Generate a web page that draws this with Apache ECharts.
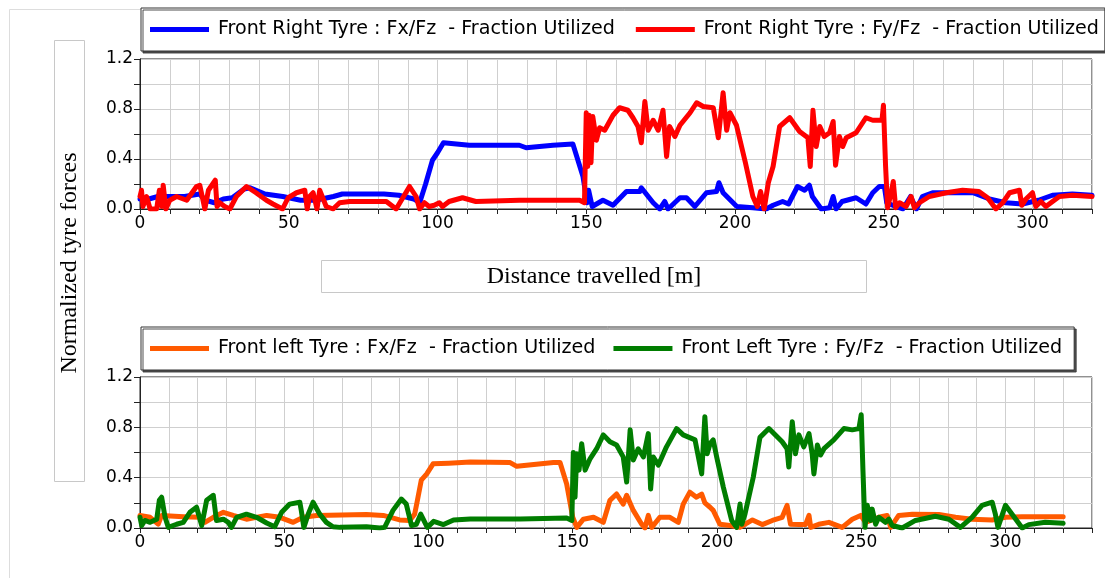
<!DOCTYPE html>
<html><head><meta charset="utf-8">
<script src="https://cdn.jsdelivr.net/npm/echarts@6/dist/echarts.min.js"></script>
<style>html,body{margin:0;padding:0;background:#fff}#c{width:1105px;height:578px}</style>
</head><body><div id="c"></div>
<script>
// Top chart: Front Right tyre. [distance m, fraction]
var frFx = [[0,0.08],[3,0.08],[6,0.1],[10,0.1],[15,0.1],[20,0.12],[22,0.07],[25,0.05],[28,0.08],[31,0.09],[35,0.16],[37,0.17],[42,0.12],[48,0.1],[54,0.07],[59,0.07],[65,0.1],[68,0.12],[82,0.12],[87,0.11],[92,0.08],[94,0.05],[96,0.2],[98.3,0.39],[100,0.45],[102,0.53],[110.7,0.51],[127.5,0.51],[129.8,0.49],[138.8,0.51],[145.5,0.52],[148.9,0.26],[150.3,0.05],[150.8,0.15],[152,0.02],[155.6,0.07],[159,0.03],[163.5,0.14],[168,0.14],[168.5,0.17],[172.5,0.05],[174.7,0],[176.4,0.06],[177.5,0],[181.5,0.09],[183.7,0.09],[186.5,0.02],[190.4,0.13],[193.8,0.14],[194.6,0.21],[196,0.13],[200.6,0.02],[206,0.01],[210.5,0],[212.8,0.03],[216,0.06],[218,0.04],[221,0.18],[223.4,0.15],[225,0.19],[226,0.1],[229,0],[231.8,0.01],[233,0.1],[234,0],[236,0.06],[240.7,0.09],[244,0.04],[246.3,0.13],[248.5,0.18],[250.2,0.18],[251,0.05],[254,0.02],[256.4,0],[259,0.1],[261,0],[263,0.1],[266.4,0.13],[280,0.13],[285.5,0.08],[291,0.05],[296.6,0.04],[302,0.07],[306.7,0.11],[313.4,0.12],[320,0.11]];
var frFy = [[0,0.1],[0.5,0.15],[1,0.02],[2.2,0.1],[3.4,0],[5.6,0],[6.5,0.15],[7.3,0.02],[7.8,0.19],[8.7,0],[10,0.07],[12.3,0.1],[15.7,0.07],[19,0.18],[20.1,0.19],[21.8,0],[23,0.15],[25.3,0.23],[25.9,0.02],[26.8,0.05],[28.5,0.02],[30.2,0],[32.4,0.1],[35.8,0.18],[39,0.13],[42.5,0.07],[44.7,0.04],[47.9,0],[49.8,0.09],[52.6,0.13],[55.4,0.15],[56.2,0],[57,0.1],[58.2,0.13],[59.5,0],[60.4,0.15],[62.6,0.02],[64.9,0],[67.1,0.05],[70.5,0.06],[82.8,0.06],[86.1,0],[90.6,0.18],[92.8,0.1],[94,0],[95.6,0.05],[97.2,0.02],[98.9,0.03],[100.6,0.05],[101.7,0.02],[103.9,0.06],[108.4,0.09],[112.9,0.06],[127.5,0.07],[147.8,0.07],[149.4,0.05],[150,0.77],[150.5,0.34],[151,0.75],[151.6,0.37],[152.2,0.74],[153.4,0.55],[154.5,0.65],[156.2,0.63],[159,0.75],[161.2,0.81],[164,0.79],[165.7,0.73],[167.4,0.66],[168.5,0.53],[169.7,0.86],[170.8,0.63],[172.5,0.71],[174.2,0.63],[175.8,0.79],[177,0.42],[178,0.66],[179.8,0.58],[181.5,0.67],[184.9,0.77],[187.1,0.85],[189.3,0.82],[192.7,0.81],[194.4,0.57],[196,0.93],[197.2,0.63],[198.3,0.77],[200.5,0.67],[203.5,0.37],[206,0.1],[207.5,0.02],[208.6,0.14],[209.8,0],[211.2,0.21],[212.8,0.34],[215,0.66],[218.4,0.73],[221.7,0.62],[224.5,0.57],[225.3,0.34],[226.2,0.79],[227.3,0.5],[228.5,0.66],[230,0.58],[231.8,0.61],[233,0.7],[233.8,0.35],[235.1,0.58],[236.2,0.5],[237.4,0.57],[240.7,0.61],[244,0.73],[246.3,0.71],[249.4,0.71],[249.9,0.83],[250.6,0.35],[251.3,0.01],[252.5,0.13],[253.2,0.22],[254,0.01],[255.3,0.05],[257.5,0.02],[259.2,0.1],[260.3,0.01],[262,0.05],[265.3,0.1],[271,0.13],[276.5,0.15],[282,0.14],[284.9,0.09],[287.7,0],[290,0.05],[292.3,0.13],[295.6,0.15],[296.4,0.03],[297.8,0.08],[300,0.13],[301.1,0.02],[302.8,0.06],[304.5,0.02],[309,0.1],[313.4,0.11],[320,0.1]];
// Bottom chart: Front Left tyre
var flFx = [[0,0.1],[3.5,0.085],[6.3,0.03],[7.5,0.1],[15,0.09],[20.8,0.085],[22.5,0.045],[25.4,0.085],[28.9,0.125],[32.3,0.1],[36.9,0.07],[43.9,0.1],[48.5,0.085],[53.1,0.045],[56.6,0.085],[61.2,0.1],[78.5,0.107],[84.3,0.1],[90,0.064],[93.5,0.06],[95.2,0.11],[96,0.2],[97.5,0.38],[99.4,0.43],[101.6,0.51],[107,0.515],[114.5,0.525],[128.3,0.52],[130.6,0.49],[143.3,0.52],[145.6,0.52],[147.9,0.35],[150,0.085],[151.4,0.005],[153.7,0.07],[157.2,0.085],[160.6,0.045],[162.9,0.22],[165.2,0.27],[167.5,0.19],[168.7,0.26],[171,0.14],[173.9,0.03],[175,0],[176.2,0.1],[177.4,0.005],[180.2,0.085],[183.7,0.085],[186.6,0.045],[188.3,0.19],[190.6,0.285],[192.9,0.245],[194.7,0.27],[195.8,0.2],[197.6,0.165],[198.7,0.14],[201,0.03],[204.5,0.02],[207.9,0.005],[212.3,0.064],[215.7,0.027],[219.2,0.06],[222.6,0.085],[224.3,0.18],[225.5,0.03],[228.4,0.027],[230.7,0.027],[231.9,0.1],[232.5,0.005],[235.3,0.03],[238.8,0.045],[243.4,0.005],[246.9,0.07],[249.8,0.1],[251.5,0.045],[256.1,0.085],[259,0.1],[260.2,0.005],[263,0.1],[267.7,0.11],[276.9,0.107],[282.7,0.085],[288.4,0.07],[295.4,0.064],[300,0.085],[305.7,0.09],[320,0.09]];
var flFy = [[0,0.085],[0.6,0.02],[1.7,0.06],[3.5,0.045],[5.8,0.07],[6.7,0.22],[7.5,0.245],[8.7,0.085],[9.8,0.005],[12.7,0.03],[15,0.045],[17.3,0.125],[19.6,0.165],[21.4,0.02],[23.1,0.22],[25.4,0.26],[26.5,0.06],[28.9,0.07],[30.6,0.045],[31.7,0.005],[33.5,0.085],[36.9,0.11],[40.4,0.085],[43.9,0.04],[46.7,0.01],[49.1,0.125],[51.9,0.19],[55.4,0.205],[55.9,0.14],[56.8,0.005],[58.3,0.11],[60,0.205],[62.3,0.11],[64.6,0.045],[66.9,0.01],[69.3,0.005],[78.5,0.01],[83.1,0],[84.8,0.005],[87.7,0.14],[90.6,0.23],[92.3,0.19],[94.1,0.02],[95.8,0.03],[97.3,0.11],[99.6,0.005],[101.8,0.053],[105.2,0.027],[108.7,0.064],[114.5,0.072],[131.8,0.072],[147.9,0.08],[149.7,0.06],[150.2,0.6],[150.8,0.245],[151.4,0.59],[152.2,0.46],[153.1,0.67],[154.3,0.46],[156,0.55],[158.3,0.63],[160.6,0.74],[162.9,0.685],[165.2,0.66],[167.5,0.565],[168.7,0.365],[169.9,0.78],[171,0.54],[172.7,0.63],[174.5,0.565],[176.2,0.75],[177,0.31],[177.9,0.565],[179.7,0.5],[182.5,0.645],[186,0.79],[188.3,0.74],[192.4,0.7],[194.7,0.43],[195.8,0.885],[196.6,0.59],[197.6,0.67],[198.7,0.7],[199.9,0.565],[202.2,0.325],[205.1,0.06],[206.8,0.005],[208,0.19],[208.6,0.03],[209.7,0.11],[212.6,0.405],[214.9,0.72],[218,0.79],[222.6,0.685],[224.3,0.63],[224.9,0.485],[226.1,0.845],[227.2,0.59],[228.4,0.74],[230.1,0.645],[231.9,0.75],[233,0.59],[233.6,0.43],[234.8,0.66],[235.9,0.58],[237.1,0.63],[240.5,0.7],[244,0.79],[246.9,0.78],[249.2,0.79],[250,0.9],[250.6,0.46],[251.3,0.005],[252.1,0.18],[253.2,0.06],[253.8,0.15],[255,0.03],[256.1,0.085],[258.4,0.045],[259.6,0.07],[260.7,0.02],[264.2,0],[268.8,0.06],[275.7,0.093],[280.4,0.07],[284.4,0.005],[288.4,0.085],[291.9,0.18],[295.4,0.205],[296.5,0.11],[297.4,0.005],[300,0.18],[302.3,0.11],[305.8,0],[308.1,0.027],[313.8,0.045],[320,0.037]];

var seriesNames = [
  'Front Right Tyre : Fx/Fz  - Fraction Utilized',
  'Front Right Tyre : Fy/Fz  - Fraction Utilized',
  'Front left Tyre : Fx/Fz  - Fraction Utilized',
  'Front Left Tyre : Fy/Fz  - Fraction Utilized'
];
var seriesColors = ['#0000ff', '#ff0000', '#ff5a00', '#007d00'];
var xMaxTop = 320, xMaxBottom = 330;
var yTitle = 'Normalized tyre forces';
var xTitle = 'Distance travelled [m]';

var sans = '"DejaVu Sans", sans-serif';
var serif = '"Liberation Serif", "Times New Roman", serif';

function xAxis(gi, max) {
  return {
    type: 'value', gridIndex: gi, min: 0, max: max, interval: 10,
    axisLine: { show: true, onZero: false, lineStyle: { color: '#222', width: 1 } },
    axisTick: { show: true, length: 5, lineStyle: { color: '#222' } },
    axisLabel: { color: '#000', fontFamily: sans, fontSize: 17, margin: 6,
      formatter: function (v) { return (Math.round(v) % 50 === 0 && v <= 300) ? String(Math.round(v)) : ''; } },
    splitLine: { show: true, lineStyle: { color: '#cfcfcf', width: 1 } }
  };
}
function yAxis(gi) {
  return {
    type: 'value', gridIndex: gi, min: 0, max: 1.2, interval: 0.2,
    axisLine: { show: true, lineStyle: { color: '#222', width: 1 } },
    axisTick: { show: true, length: 6, lineStyle: { color: '#222' } },
    axisLabel: { color: '#000', fontFamily: sans, fontSize: 17, margin: 7,
      formatter: function (v) { var k = Math.round(v * 10); return k % 4 === 0 ? (k / 10).toFixed(1) : ''; } },
    splitLine: { show: true, lineStyle: { color: '#cfcfcf', width: 1 } }
  };
}
function line(i, gi, data) {
  return {
    name: seriesNames[i], type: 'line', xAxisIndex: gi, yAxisIndex: gi,
    data: data, showSymbol: false, symbol: 'none', animation: false,
    color: seriesColors[i],
    lineStyle: { width: 5, color: seriesColors[i], cap: 'round', join: 'round' }
  };
}
function legend(names, top, gap, padRight) {
  return {
    data: names, left: 141, top: top, orient: 'horizontal',
    itemWidth: 59, itemHeight: 5, itemGap: gap, icon: 'rect',
    backgroundColor: '#fff', borderColor: '#333', borderWidth: 1,
    shadowColor: 'rgba(60,60,60,0.9)', shadowOffsetX: 2, shadowOffsetY: 2, shadowBlur: 0,
    padding: [12, padRight, 12, 9],
    textStyle: { fontFamily: sans, fontSize: 19.1, color: '#000', padding: [0, 0, 0, 4] },
    selectedMode: false
  };
}

var chart = echarts.init(document.getElementById('c'), null, { renderer: 'canvas' });
chart.setOption({
  animation: false,
  backgroundColor: '#fff',
  grid: [
    { left: 140, top: 59, width: 952, height: 150, show: true, borderColor: '#222', borderWidth: 1, backgroundColor: 'transparent' },
    { left: 140, top: 377, width: 952, height: 151, show: true, borderColor: '#222', borderWidth: 1, backgroundColor: 'transparent' }
  ],
  xAxis: [xAxis(0, xMaxTop), xAxis(1, xMaxBottom)],
  yAxis: [yAxis(0), yAxis(1)],
  legend: [legend([seriesNames[0], seriesNames[1]], 8, 21, 6), legend([seriesNames[2], seriesNames[3]], 327, 18, 12)],
  graphic: [
    { type: 'rect', left: 7, top: 7, shape: { width: 1110, height: 580 }, style: { fill: 'none', stroke: '#dddddd', lineWidth: 1 }, z: -10 },
    { type: 'rect', left: 54, top: 40, shape: { width: 30, height: 441 }, style: { fill: '#fff', stroke: '#c8c8c8', lineWidth: 1 } },
    { type: 'text', x: 70, y: 263, rotation: Math.PI / 2, style: { text: yTitle, font: '24px ' + serif, fill: '#000', align: 'center', verticalAlign: 'middle' } },
    { type: 'rect', left: 321, top: 260, shape: { width: 545, height: 32 }, style: { fill: '#fff', stroke: '#c8c8c8', lineWidth: 1 } },
    { type: 'text', x: 594, y: 277, style: { text: xTitle, font: '24px ' + serif, fill: '#000', align: 'center', verticalAlign: 'middle' } }
  ],
  series: [line(0, 0, frFx), line(1, 0, frFy), line(2, 1, flFx), line(3, 1, flFy)]
});
</script></body></html>
